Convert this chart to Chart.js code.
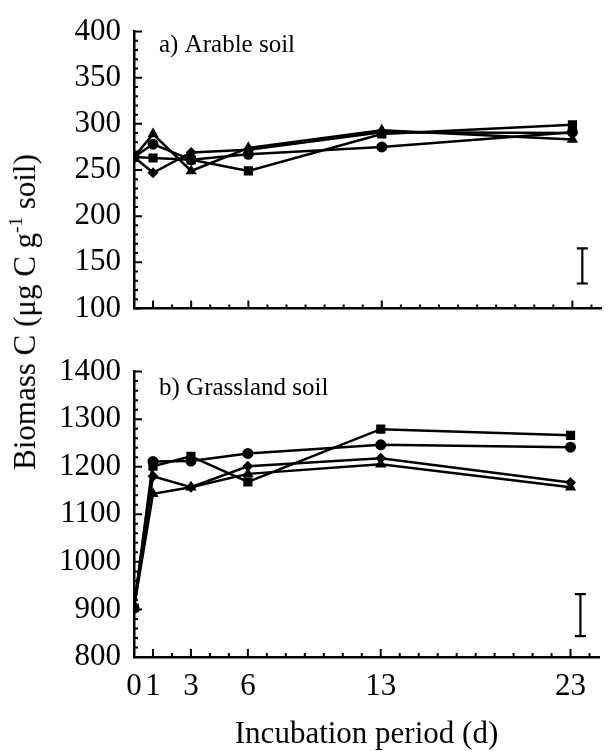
<!DOCTYPE html>
<html>
<head>
<meta charset="utf-8">
<script src="https://cdn.jsdelivr.net/npm/chart.js@4"></script>
<style>
  body { margin: 0; background: #fff; }
  #wrap { position: relative; width: 610px; height: 753px; background: #fff; }
  canvas { position: absolute; left: 0; }
  #ytitle {
    position: absolute; left: 25px; top: 312px;
    transform: translate(-50%, -50%) rotate(-90deg);
    font: 31px "Liberation Serif", "Times New Roman", serif;
    white-space: nowrap; color: #000;
  }
  #ytitle sup { font-size: 19px; vertical-align: 13px; line-height: 0; }
</style>
</head>
<body>
<div id="wrap">
  <canvas id="arableChart" width="610" height="340" style="top:0"></canvas>
  <canvas id="grassChart" width="610" height="413" style="top:340px"></canvas>
  <div id="ytitle">Biomass C (μg C g<sup>-1</sup> soil)</div>
</div>
<script>
// incubation days and the labelled ones on the x axis
const days = [0, 1, 3, 6, 13, 23];
const labelledDays = [0, 1, 3, 6, 13, 23];

// a) arable soil, biomass C (ug C / g soil)
const arableSquare   = [264, 263, 261, 249, 289, 299];
const arableCircle   = [264, 278, 261, 267, 275, 291];
const arableTriangle = [264, 289, 249, 274, 293, 283];
const arableDiamond  = [264, 247, 269, 272, 291, 290];
const arableErr = [127, 165];

// b) grassland soil
const grassSquare   = [903, 1201, 1222, 1168, 1279, 1266];
const grassCircle   = [903, 1211, 1212, 1228, 1246, 1241];
const grassTriangle = [903, 1143, 1157, 1185, 1205, 1157];
const grassDiamond  = [903, 1180, 1157, 1201, 1218, 1167];
const grassErr = [844, 932];

const errDay = 23.52;
const FONT = '"Liberation Serif", "Times New Roman", serif';

// tick marks pointing into the plot, like the printed figure
const innerTicks = {
  id: 'innerTicks',
  afterDraw(chart, args, opts) {
    const { ctx, chartArea: a, scales: { x, y } } = chart;
    ctx.save();
    ctx.strokeStyle = '#000';
    ctx.lineWidth = 2;
    ctx.beginPath();
    for (let d = 1; d <= Math.floor(x.max); d++) {
      const px = x.getPixelForValue(d);
      const len = labelledDays.includes(d) ? 8 : 4;
      ctx.moveTo(px, a.bottom); ctx.lineTo(px, a.bottom - len);
    }
    for (let v = y.min; v <= y.max; v += opts.minorY) {
      const py = y.getPixelForValue(v);
      const len = (v - y.min) % opts.majorY === 0 ? 8 : 4;
      ctx.moveTo(a.left, py); ctx.lineTo(a.left + len, py);
    }
    ctx.stroke();
    ctx.restore();
  },
};

// the single error bar and the panel caption
const panelExtras = {
  id: 'panelExtras',
  afterDraw(chart, args, opts) {
    const { ctx, chartArea: a, scales: { x, y } } = chart;
    ctx.save();
    const ex = x.getPixelForValue(errDay);
    const y0 = y.getPixelForValue(opts.err[0]), y1 = y.getPixelForValue(opts.err[1]);
    ctx.strokeStyle = '#000';
    ctx.lineWidth = 2.2;
    ctx.beginPath();
    ctx.moveTo(ex, y0); ctx.lineTo(ex, y1);
    ctx.moveTo(ex - 5.5, y0); ctx.lineTo(ex + 5.5, y0);
    ctx.moveTo(ex - 5.5, y1); ctx.lineTo(ex + 5.5, y1);
    ctx.stroke();
    ctx.fillStyle = '#000';
    ctx.font = '25px ' + FONT;
    ctx.textBaseline = 'middle';
    ctx.fillText(opts.caption, a.left + 25, a.top + opts.captionDy);
    ctx.restore();
  },
};

function series(data, style, radius) {
  return {
    data: days.map((d, i) => ({ x: d, y: data[i] })),
    borderColor: '#000',
    borderWidth: 2.5,
    backgroundColor: '#000',
    pointStyle: style,
    pointRadius: radius,
    pointBorderWidth: 0,
    pointBackgroundColor: '#000',
    tension: 0,
  };
}

function makeChart(id, sets, yMin, yMax, yStep, minorY, err, caption, captionDy, bottom, padTop) {
  return new Chart(document.getElementById(id), {
    type: 'line',
    data: {
      datasets: [
        series(sets[0], 'rect', 6.5),
        series(sets[1], 'circle', 5.5),
        series(sets[2], 'triangle', 6.5),
        series(sets[3], 'rectRot', 5.5),
      ],
    },
    plugins: [innerTicks, panelExtras],
    options: {
      responsive: false,
      animation: false,
      devicePixelRatio: 1,
      layout: { padding: { top: padTop, right: 9, left: 0, bottom: 0 } },
      plugins: {
        legend: { display: false },
        tooltip: { enabled: false },
        innerTicks: { minorY, majorY: yStep },
        panelExtras: { err, caption, captionDy },
      },
      scales: {
        x: {
          type: 'linear', min: 0, max: 24.5,
          grid: { display: false, drawTicks: false },
          border: { display: true, color: '#000', width: 2.5 },
          ticks: {
            display: bottom, stepSize: 1, autoSkip: false, maxRotation: 0, padding: 11,
            color: '#000', font: { family: FONT, size: 31 },
            callback: v => labelledDays.includes(v) ? String(v) : '',
          },
          title: {
            display: bottom, text: 'Incubation period (d)', color: '#000',
            font: { family: FONT, size: 31 }, padding: { top: 0, bottom: 0 },
          },
          afterFit: s => { s.height = bottom ? 96 : 23; },
        },
        y: {
          min: yMin, max: yMax,
          grid: { display: false, drawTicks: false },
          border: { display: true, color: '#000', width: 2.5 },
          ticks: {
            stepSize: yStep, padding: 13, color: '#000', font: { family: FONT, size: 31 },
            callback: v => String(v),
          },
          afterFit: s => { s.width = 134; },
        },
      },
    },
  });
}

makeChart('arableChart', [arableSquare, arableCircle, arableTriangle, arableDiamond],
  100, 400, 50, 10, arableErr, 'a) Arable soil', 14, false, 23);
makeChart('grassChart', [grassSquare, grassCircle, grassTriangle, grassDiamond],
  800, 1400, 100, 20, grassErr, 'b) Grassland soil', 17, true, 25);
</script>
</body>
</html>
